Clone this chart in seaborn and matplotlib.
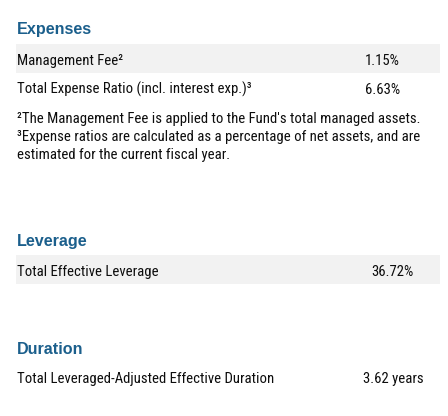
import matplotlib
matplotlib.use("Agg")
import matplotlib.pyplot as plt
import seaborn as sns

sns.set_theme(style="white")
plt.rcParams['font.family'] = ['Liberation Sans', 'DejaVu Sans']
body_family = ['Roboto Condensed', 'Liberation Sans', 'DejaVu Sans']

# ---- data ----
section_titles = ["Expenses", "Leverage", "Duration"]
expense_labels = ["Management Fee\u00b2", "Total Expense Ratio (incl. interest exp.)\u00b3"]
expense_values = ["1.15%", "6.63%"]
footnote_lines = ["\u00b2The Management Fee is applied to the Fund's total managed assets.",
                  "\u00b3Expense ratios are calculated as a percentage of net assets, and are",
                  "estimated for the current fiscal year."]
leverage_labels = ["Total Effective Leverage"]
leverage_values = ["36.72%"]
duration_labels = ["Total Leveraged-Adjusted Effective Duration"]
duration_values = ["3.62 years"]

# ---- layout (pixel coordinates) ----
W, H = 448, 416
title_color = "#1b5f8c"
text_color = "#0d0d0d"
band_color = "#f2f2f2"
title_fs = 11.6
body_fs = 10.65

fig = plt.figure(figsize=(W / 100, H / 100), dpi=100)
ax = fig.add_axes([0, 0, 1, 1])
ax.set_xlim(0, W)
ax.set_ylim(H, 0)
ax.axis("off")

title_baselines = [34, 246, 354]
for t, yb in zip(section_titles, title_baselines):
    ax.text(17, yb, t, fontsize=title_fs, fontweight="bold", color=title_color,
            va="baseline", ha="left")

rows = [
    (expense_labels[0], expense_values[0], 65, 365, (44, 73)),
    (expense_labels[1], expense_values[1], 94, 365, None),
    (leverage_labels[0], leverage_values[0], 276, 371, (255, 284)),
    (duration_labels[0], duration_values[0], 383, 363, None),
]
for lab, val, yb, vx, band in rows:
    if band is not None:
        ax.barh((band[0] + band[1]) / 2, 440 - 16, height=band[1] - band[0], left=16,
                color=band_color, edgecolor="none", zorder=0)
    ax.text(17, yb, lab, fontsize=body_fs, family=body_family, color=text_color,
            va="baseline", ha="left", zorder=2)
    ax.text(vx, yb, val, fontsize=body_fs, family=body_family, color=text_color,
            va="baseline", ha="left", zorder=2)

for i, line in enumerate(footnote_lines):
    ax.text(17, 123.5 + 18 * i, line, fontsize=body_fs, family=body_family,
            color=text_color, va="baseline", ha="left")

fig.savefig("out.png", dpi=100, facecolor="white")
